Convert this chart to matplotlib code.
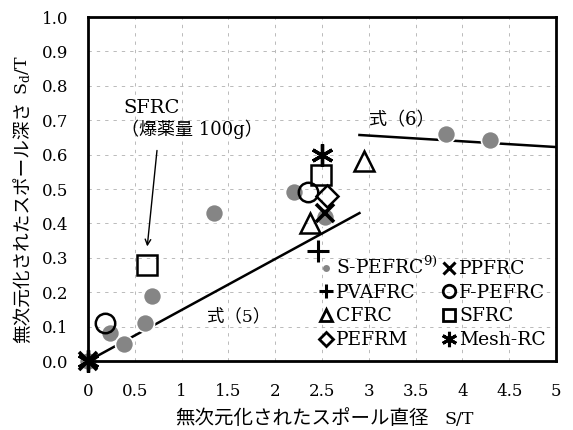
import matplotlib
matplotlib.use("Agg")
import matplotlib.pyplot as plt

plt.rcParams['font.family'] = ['DejaVu Serif', 'Noto Sans CJK JP']
plt.rcParams['mathtext.fontset'] = 'custom'
plt.rcParams['mathtext.rm'] = 'DejaVu Serif'

# Measured points: S/T (x) and Sd/T (y) per material
spefrc_x = [0.0, 0.23, 0.38, 0.61, 0.68, 1.35, 2.20, 2.53, 3.82, 4.30]
spefrc_y = [0.0, 0.08, 0.05, 0.11, 0.19, 0.43, 0.49, 0.42, 0.66, 0.643]
ppfrc_x = [0.0, 2.53]
ppfrc_y = [0.0, 0.43]
pvafrc_x = [2.46]
pvafrc_y = [0.32]
fpefrc_x = [0.18, 2.35]
fpefrc_y = [0.11, 0.49]
cfrc_x = [2.37, 2.95]
cfrc_y = [0.40, 0.58]
sfrc_x = [0.63, 2.49]
sfrc_y = [0.28, 0.54]
pefrm_x = [2.55]
pefrm_y = [0.48]
meshrc_x = [0.0, 2.50]
meshrc_y = [0.0, 0.60]

# Fitted relations
eq5_x = [0.0, 2.9]
eq5_y = [0.0, 0.43]
eq6_x = [2.9, 5.0]
eq6_y = [0.657, 0.622]

xticks = [0, 0.5, 1, 1.5, 2, 2.5, 3, 3.5, 4, 4.5, 5]
xticklabels = ['0', '0.5', '1', '1.5', '2', '2.5', '3', '3.5', '4', '4.5', '5']
yticks = [0.0, 0.1, 0.2, 0.3, 0.4, 0.5, 0.6, 0.7, 0.8, 0.9, 1.0]

W, H = 573, 430
fig = plt.figure(figsize=(W / 100, H / 100), dpi=100)
ax = fig.add_axes([88 / W, 1 - 361 / H, 468 / W, 344 / H])
ax.set_xlim(0, 5)
ax.set_ylim(0, 1.0)

for xv in xticks[1:-1]:
    ax.axvline(xv, color='#b0b0b0', lw=0.6, ls=(0, (4, 6)), zorder=0)
for yv in yticks[1:-1]:
    ax.axhline(yv, color='#b0b0b0', lw=0.6, ls=(0, (4, 6)), zorder=0)

ax.plot(eq5_x, eq5_y, color='black', lw=1.8, zorder=1)
ax.plot(eq6_x, eq6_y, color='black', lw=1.8, zorder=1)

ax.plot(spefrc_x, spefrc_y, ls='none', marker='o', ms=13, mfc='#858585',
        mec='white', mew=1.2, zorder=2, clip_on=False)
open_kw = dict(ls='none', mfc='none', mec='black', mew=1.8, ms=14, zorder=3, clip_on=False)
ax.plot(fpefrc_x, fpefrc_y, marker='o', **open_kw)
ax.plot(sfrc_x, sfrc_y, marker='s', **open_kw)
ax.plot(cfrc_x, cfrc_y, marker='^', **open_kw)
ax.plot(pefrm_x, pefrm_y, marker='D', **dict(open_kw, ms=11))
ax.plot(pvafrc_x, pvafrc_y, ls='none', marker='+', ms=16, mec='black', mew=2.2, zorder=3)
ax.plot(ppfrc_x, ppfrc_y, ls='none', marker='x', ms=13, mec='black', mew=2.6, zorder=3,
        clip_on=False)
ax.plot(meshrc_x, meshrc_y, ls='none', marker=(6, 2, 0), ms=16, mec='black', mew=2.4,
        zorder=4, clip_on=False)

# Legend proxies
h = []
h.append(ax.plot([], [], ls='none', marker='o', ms=5, mfc='#858585', mec='none')[0])
h.append(ax.plot([], [], ls='none', marker='+', ms=10, mec='black', mew=2.2)[0])
h.append(ax.plot([], [], ls='none', marker='^', ms=9, mfc='none', mec='black', mew=2.0)[0])
h.append(ax.plot([], [], ls='none', marker='D', ms=7, mfc='none', mec='black', mew=2.0)[0])
h.append(ax.plot([], [], ls='none', marker='x', ms=9, mec='black', mew=2.2)[0])
h.append(ax.plot([], [], ls='none', marker='o', ms=9, mfc='none', mec='black', mew=2.0)[0])
h.append(ax.plot([], [], ls='none', marker='s', ms=9, mfc='none', mec='black', mew=2.0)[0])
h.append(ax.plot([], [], ls='none', marker=(6, 2, 0), ms=11, mec='black', mew=2.2)[0])
labels = ['S-PEFRC$^{\\mathregular{9)}}$', 'PVAFRC', 'CFRC', 'PEFRM',
          'PPFRC', 'F-PEFRC', 'SFRC', 'Mesh-RC']
leg = ax.legend(h, labels, ncol=2, loc='upper left',
                bbox_to_anchor=(320 / W, 1 - 256 / H), bbox_transform=fig.transFigure,
                frameon=False, fontsize=13.5, handlelength=0.6, handletextpad=0.25,
                columnspacing=0.3, labelspacing=0.30, borderpad=0.0, borderaxespad=0.0)

ax.text(1.27, 0.128, '式（5）', fontsize=12.5, ha='left', va='center')
ax.text(3.0, 0.70, '式（6）', fontsize=13, ha='left', va='center')
ax.text(0.38, 0.735, 'SFRC', fontsize=14, ha='left', va='center')
ax.text(0.35, 0.675, '（爆薬量 100g）', fontsize=13, ha='left', va='center')
ax.annotate('', xy=(0.63, 0.325), xytext=(0.74, 0.62),
            arrowprops=dict(arrowstyle='->', color='black', lw=1.0))

ax.set_xticks(xticks)
ax.set_xticklabels(xticklabels)
ax.set_yticks(yticks)
ax.set_yticklabels([f'{v:.1f}' for v in yticks])
ax.tick_params(axis='both', length=0, labelsize=12)
ax.tick_params(axis='x', pad=16)
ax.tick_params(axis='y', pad=14)
for s in ax.spines.values():
    s.set_linewidth(2.0)

# Axis titles
fig.text(175 / W, 1 - 419 / H, '無次元化されたスポール直径', fontsize=14,
         ha='left', va='center')
fig.text(445 / W, 1 - 419 / H, 'S/T', fontsize=12.5, ha='left', va='center')
ylab_jp = fig.text(23 / W, 1 - 343 / H, '無次元化されたスポール深さ', fontsize=13.4,
                   rotation=90, ha='center', va='bottom')

# Stack the Sd/T part directly above the Japanese part of the y title
fig.canvas.draw()
top_px = ylab_jp.get_window_extent().y1
fig.text(23 / W, (top_px + 6) / H, 'S$_\\mathregular{d}$/T', fontsize=12.5,
         rotation=90, ha='center', va='bottom')

fig.savefig('out.png', dpi=100)
